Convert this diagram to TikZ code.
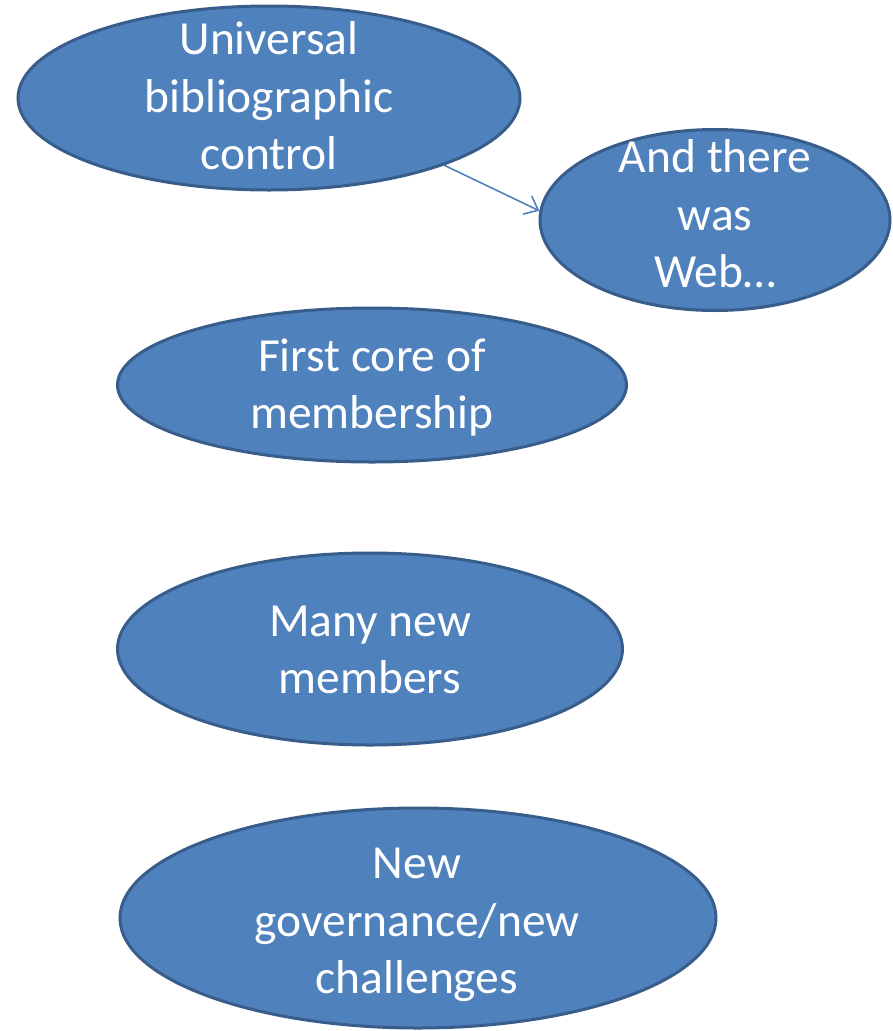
\documentclass[tikz,border=0pt]{standalone}
\usepackage{fontspec}
\setmainfont{Carlito}
\usetikzlibrary{shapes.geometric,arrows.meta}
\definecolor{fillblue}{HTML}{4F81BD}
\definecolor{edgeblue}{HTML}{385D8A}
\tikzset{
  bubble/.style={ellipse, draw=edgeblue, fill=fillblue, line width=3pt, inner sep=0pt},
  label/.style={text=white, align=center, inner sep=0pt, font=\fontsize{47.5}{57.5}\selectfont},
  link/.style={draw=fillblue, line width=1.6pt, -{Straight Barb[length=12pt,width=20pt]}}
}
\begin{document}
\begin{tikzpicture}[x=1pt,y=-1pt]
\useasboundingbox (0,0) rectangle (892,1031);
\node[bubble, minimum width=502pt, minimum height=184pt] (u) at (269,98) {};
\node[bubble, minimum width=350pt, minimum height=181pt] (w) at (715,220) {};
\node[bubble, minimum width=509pt, minimum height=154pt] (f) at (372,385) {};
\node[bubble, minimum width=505pt, minimum height=192pt] (m) at (370,649) {};
\node[bubble, minimum width=596pt, minimum height=220pt] (g) at (418,918) {};
\node[label] (ut) at (269,96) {Universal\\bibliographic\\control};
\node[label] (wt) at (715,214) {And there\\was\\Web\ldots};
\node[label] (ft) at (372,387.5) {First core of\\membership};
\node[label] (mt) at (370,650) {Many new\\members};
\node[label] (gt) at (417,925) {New\\governance/new\\challenges};
\draw[link] (u.-21) -- (w.177);
\end{tikzpicture}
\end{document}
